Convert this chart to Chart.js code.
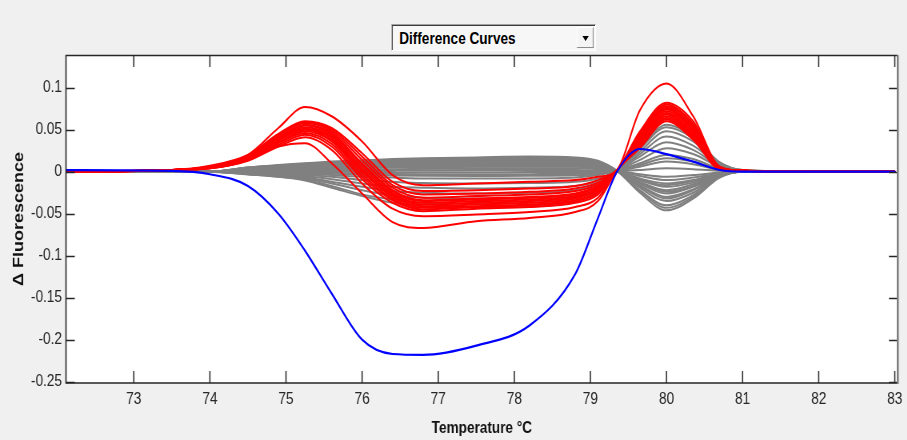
<!DOCTYPE html>
<html>
<head>
<meta charset="utf-8">
<script src="https://cdn.jsdelivr.net/npm/chart.js@4.4.1/dist/chart.umd.min.js"></script>
<style>
  html, body { margin: 0; padding: 0; background: #f0f0f0; overflow: hidden; }
  /* the reference figure is squeezed horizontally, so draw wide and squeeze */
  #stage { position: absolute; left: 0; top: 0; width: 1134px; height: 440px; transform: scaleX(0.8); transform-origin: 0 0; }
  #curves { position: absolute; left: 0; top: 0; }
  #picker {
    position: absolute; left: 489px; top: 24px; width: 254px; height: 25px;
    background: #f7f7f7;
    border-top: 1px solid #a0a0a0; border-left: 1px solid #a0a0a0;
    border-right: 1px solid #ffffff; border-bottom: 1px solid #ffffff;
    box-shadow: inset 1px 1px 0 #3c3c3c;
    font: bold 17px 'Liberation Sans', Arial, sans-serif; color: #000;
  }
  #picker span { position: absolute; left: 9px; top: 4px; }
  #picker .btn {
    position: absolute; right: 2px; top: 2px; width: 19px; height: 19px;
    background: #f4f4f4;
    border-top: 1px solid #ffffff; border-left: 1px solid #ffffff;
    border-right: 1px solid #8a8a8a; border-bottom: 1px solid #8a8a8a;
  }
  #picker .btn i {
    position: absolute; left: 6px; top: 8px; width: 0; height: 0;
    border-left: 4px solid transparent; border-right: 4px solid transparent; border-top: 5px solid #000;
  }
</style>
</head>
<body>
<div id="stage">
  <canvas id="curves" width="1134" height="440"></canvas>
  <div id="picker"><span>Difference Curves</span><div class="btn"><i></i></div></div>
</div>
<script>
// ====================================
// DIFFERENCE CURVES (melt curve differences)
// ====================================

// Temperature grid (°C) shared by every curve
const temps = [72.0, 73.5, 74.0, 74.5, 74.9, 75.25, 75.6, 76.0, 76.4, 76.8, 77.5, 78.2, 78.8, 79.1, 79.35, 79.65, 80.0, 80.35, 80.7, 81.0, 82.0, 83.0];

// Reference sample (blue)
const blueCurve = [0.002, 0.001, -0.003, -0.017, -0.05, -0.094, -0.145, -0.2, -0.217, -0.218, -0.207, -0.183, -0.122, -0.055, 0.0, 0.027, 0.021, 0.012, 0.002, 0.0, 0.0, 0.0];

// Red group
const redCurves = [
  [0, .002, .006, .020, .052, .077, .066, .036, -.004, -.016, -.014, -.012, -.010, -.006, .002, .073, .105, .066, .006, .001, 0, 0],
  [0, .002, .007, .020, .045, .060, .052, .022, -.012, -.023, -.022, -.020, -.017, -.010, .002, .048, .082, .060, .006, .001, 0, 0],
  [0, .002, .006, .019, .044, .059, .050, .018, -.016, -.027, -.026, -.024, -.020, -.013, .002, .046, .080, .057, .005, .001, 0, 0],
  [0, .002, .006, .018, .043, .058, .048, .014, -.019, -.031, -.029, -.027, -.023, -.015, .002, .044, .078, .055, .005, .001, 0, 0],
  [0, .002, .005, .017, .041, .056, .046, .010, -.022, -.034, -.032, -.030, -.026, -.017, .002, .042, .076, .053, .005, .001, 0, 0],
  [0, .002, .006, .017, .040, .055, .044, .008, -.024, -.035, -.033, -.031, -.027, -.018, .002, .040, .074, .051, .004, .001, 0, 0],
  [0, .002, .005, .016, .039, .053, .042, .005, -.026, -.037, -.035, -.033, -.029, -.020, .002, .038, .072, .049, .004, .001, 0, 0],
  [0, .002, .005, .016, .038, .051, .040, .002, -.028, -.039, -.037, -.035, -.030, -.021, .002, .036, .070, .047, .004, .001, 0, 0],
  [0, .002, .005, .015, .037, .050, .038, .000, -.030, -.041, -.039, -.037, -.032, -.022, .002, .034, .068, .045, .004, .001, 0, 0],
  [0, .002, .005, .015, .035, .048, .036, -.003, -.032, -.043, -.041, -.039, -.034, -.024, .002, .032, .066, .043, .003, .001, 0, 0],
  [0, .002, .004, .014, .034, .046, .033, -.006, -.034, -.045, -.042, -.040, -.035, -.025, .002, .030, .064, .041, .003, .001, 0, 0],
  [0, .002, .004, .014, .032, .044, .030, -.009, -.037, -.047, -.044, -.042, -.037, -.027, .002, .029, .062, .040, .003, .001, 0, 0],
  [0, .002, .004, .013, .030, .041, .026, -.014, -.044, -.053, -.051, -.048, -.042, -.031, .002, .028, .060, .038, .003, .001, 0, 0],
  [0, .002, .005, .014, .030, .034, .010, -.026, -.060, -.067, -.059, -.055, -.048, -.035, .002, .038, .075, .050, .005, .001, 0, 0]
];

// Gray group
const grayCurves = [
  [0, 0, 0, .005, .008, .010, .012, .0135, .015, .016, .017, .018, .017, .013, .001, -.025, -.046, -.032, -.007, 0, 0, 0],
  [0, 0, 0, .005, .0075, .0095, .011, .013, .014, .015, .016, .017, .016, .012, .001, -.023, -.043, -.030, -.006, 0, 0, 0],
  [0, 0, 0, .005, .007, .009, .010, .012, .013, .014, .015, .016, .015, .011, .001, -.022, -.040, -.028, -.006, 0, 0, 0],
  [0, 0, 0, .004, .007, .008, .010, .011, .012, .013, .014, .015, .014, .010, .001, -.019, -.035, -.025, -.005, 0, 0, 0],
  [0, 0, 0, .004, .0065, .0078, .009, .0105, .0115, .012, .013, .014, .013, .0095, .001, -.017, -.032, -.022, -.0045, 0, 0, 0],
  [0, 0, 0, .004, .006, .007, .008, .010, .011, .011, .012, .013, .012, .009, .001, -.016, -.030, -.021, -.004, 0, 0, 0],
  [0, 0, 0, .004, .005, .007, .008, .009, .010, .011, .011, .012, .011, .008, .001, -.014, -.026, -.018, -.004, 0, 0, 0],
  [0, 0, 0, .0035, .0048, .006, .007, .0083, .009, .0097, .0105, .011, .0105, .0077, .001, -.013, -.024, -.017, -.0035, 0, 0, 0],
  [0, 0, 0, .003, .004, .005, .006, .008, .008, .009, .009, .010, .009, .007, .001, -.012, -.022, -.015, -.003, 0, 0, 0],
  [0, 0, 0, .002, .004, .004, .005, .006, .007, .007, .008, .008, .008, .006, .001, -.010, -.018, -.013, -.003, 0, 0, 0],
  [0, 0, 0, .002, .0032, .0039, .0045, .0052, .0057, .0062, .0067, .007, .0067, .0049, .001, -.009, -.016, -.011, -.0025, 0, 0, 0],
  [0, 0, 0, .002, .003, .003, .004, .0045, .005, .005, .006, .006, .006, .004, .001, -.008, -.014, -.010, -.002, 0, 0, 0],
  [0, 0, 0, .001, .002, .002, .003, .003, .003, .0035, .004, .004, .004, .003, .001, -.005, -.010, -.007, -.002, 0, 0, 0],
  [0, 0, 0, .001, .001, .001, .001, .0015, .0016, .0018, .002, .002, .002, .0014, .001, -.003, -.006, -.004, -.001, 0, 0, 0],
  [0, 0, 0, 0, 0, 0, 0, -.0003, -.0005, -.0006, -.0006, -.0005, -.0004, -.0003, .001, .002, .004, .003, .001, 0, 0, 0],
  [0, 0, 0, 0, -.0005, -.001, -.0014, -.002, -.0026, -.0029, -.003, -.0029, -.0026, -.0017, .001, .006, .012, .009, .002, 0, 0, 0],
  [0, 0, 0, -.0005, -.0008, -.0013, -.0023, -.0035, -.0044, -.0049, -.005, -.0049, -.0043, -.0028, .001, .008, .016, .012, .003, .001, 0, 0],
  [0, 0, 0, -.001, -.001, -.002, -.004, -.006, -.007, -.008, -.008, -.008, -.007, -.004, .001, .010, .020, .015, .004, .001, 0, 0],
  [0, 0, 0, -.001, -.002, -.0035, -.006, -.010, -.012, -.0135, -.014, -.0135, -.012, -.008, .001, .014, .028, .021, .006, .001, 0, 0],
  [0, 0, 0, -.002, -.003, -.005, -.009, -.014, -.018, -.019, -.020, -.019, -.017, -.011, .001, .018, .035, .026, .007, .001, 0, 0],
  [0, 0, 0, -.002, -.004, -.0065, -.012, -.018, -.023, -.025, -.026, -.025, -.022, -.014, .001, .021, .042, .031, .008, .001, 0, 0],
  [0, 0, 0, -.003, -.005, -.008, -.014, -.022, -.028, -.031, -.032, -.031, -.027, -.018, .001, .024, .048, .036, .010, .001, 0, 0],
  [0, 0, 0, -.003, -.006, -.0095, -.017, -.027, -.033, -.037, -.038, -.037, -.032, -.021, .001, .027, .053, .040, .011, .002, 0, 0],
  [0, 0, 0, -.003, -.006, -.0105, -.019, -.029, -.037, -.041, -.042, -.041, -.036, -.023, .001, .028, .056, .042, .011, .002, 0, 0]
];

// Axis ticks
const xTicks = [73, 74, 75, 76, 77, 78, 79, 80, 81, 82, 83];
const yTicks = [0.1, 0.05, 0, -0.05, -0.1, -0.15, -0.2, -0.25];

const tickFont = { family: "'Liberation Sans', Arial, sans-serif", size: 17 };
const inkColor = '#262626';

// white plot box + inward ticks on all four sides (MATLAB style)
const axesBox = {
  id: 'axesBox',
  beforeDraw(chart) {
    const { ctx, chartArea: a } = chart;
    ctx.save();
    ctx.fillStyle = '#ffffff';
    ctx.fillRect(a.left, a.top, a.right - a.left, a.bottom - a.top);
    ctx.restore();
  },
  afterDatasetsDraw(chart) {
    const { ctx, chartArea: a, scales: { x, y } } = chart;
    ctx.save();
    ctx.strokeStyle = inkColor;
    ctx.lineWidth = 1.5;
    ctx.beginPath();
    xTicks.forEach(t => {
      const px = x.getPixelForValue(t);
      ctx.moveTo(px, a.bottom); ctx.lineTo(px, a.bottom - 12);
      ctx.moveTo(px, a.top); ctx.lineTo(px, a.top + 12);
    });
    yTicks.forEach(t => {
      const py = Math.round(y.getPixelForValue(t)) + 0.5;
      ctx.moveTo(a.left, py); ctx.lineTo(a.left + 11, py);
      ctx.moveTo(a.right, py); ctx.lineTo(a.right - 11, py);
    });
    ctx.stroke();

    // frame
    ctx.lineWidth = 1.6;
    ctx.beginPath();
    ctx.moveTo(a.right, a.top + 0.5); ctx.lineTo(a.left, a.top + 0.5);
    ctx.lineTo(a.left, a.bottom); ctx.lineTo(a.right, a.bottom);
    ctx.stroke();
    ctx.strokeStyle = '#7d7d7d';
    ctx.lineWidth = 2.5;
    ctx.beginPath();
    ctx.moveTo(a.right, a.top); ctx.lineTo(a.right, a.bottom + 1);
    ctx.stroke();
    ctx.restore();
  }
};

const toPoints = vals => temps.map((t, i) => ({ x: t, y: vals[i] }));

// first dataset is drawn on top: blue, then red, then gray underneath
const datasets = [{ data: toPoints(blueCurve), borderColor: '#0000ff', borderWidth: 2.2 }];
redCurves.forEach(c => datasets.push({ data: toPoints(c), borderColor: '#ff0000', borderWidth: 2 }));
grayCurves.forEach(c => datasets.push({ data: toPoints(c), borderColor: '#808080', borderWidth: 2 }));

const ctx = document.getElementById('curves').getContext('2d');
new Chart(ctx, {
  type: 'line',
  data: { datasets },
  options: {
    responsive: false,
    animation: false,
    devicePixelRatio: 1,
    layout: { padding: { top: 55, right: 9, left: 0, bottom: 0 } },
    elements: {
      point: { radius: 0 },
      line: { cubicInterpolationMode: 'monotone', borderJoinStyle: 'round', borderCapStyle: 'round' }
    },
    plugins: { legend: { display: false }, tooltip: { enabled: false } },
    scales: {
      x: {
        type: 'linear',
        min: 72.109,
        max: 83.039,
        afterBuildTicks: s => { s.ticks = xTicks.map(v => ({ value: v })); },
        afterFit: s => { s.height = 57; },
        grid: { display: false, drawTicks: false },
        border: { display: false },
        ticks: { padding: 6, color: inkColor, font: tickFont, autoSkip: false, maxRotation: 0, callback: v => String(v) },
        title: {
          display: true,
          text: 'Temperature °C',
          color: '#111',
          font: { family: "'Liberation Sans', Arial, sans-serif", size: 17, weight: 'bold' },
          padding: { top: 0, bottom: 1 }
        }
      },
      y: {
        min: -0.2515,
        max: 0.1389,
        afterBuildTicks: s => { s.ticks = yTicks.map(v => ({ value: v })); },
        afterFit: s => { s.width = 82.5; },
        grid: { display: false, drawTicks: false },
        border: { display: false },
        ticks: { padding: 5, color: inkColor, font: tickFont, autoSkip: false, callback: v => String(v) },
        title: {
          display: true,
          text: 'Δ Fluorescence',
          color: '#111',
          font: { family: "'Liberation Sans', Arial, sans-serif", size: 18, weight: 'bold' },
          padding: { top: 13, bottom: 0 }
        }
      }
    }
  },
  plugins: [axesBox]
});
</script>
</body>
</html>
